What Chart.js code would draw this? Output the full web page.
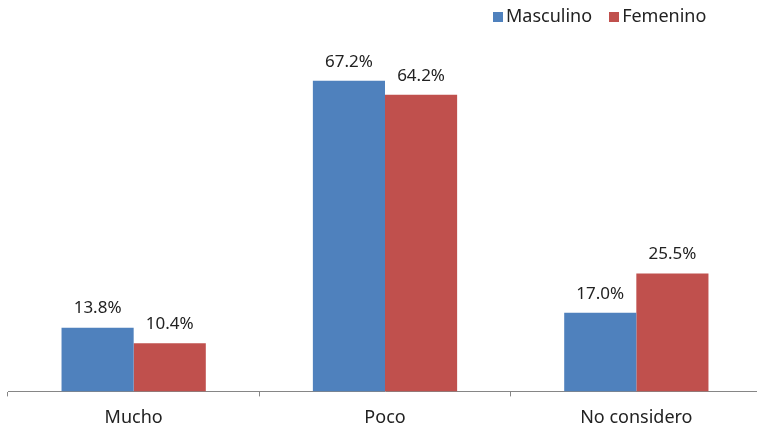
<!DOCTYPE html>
<html>
<head>
<meta charset="utf-8">
<script src="https://cdn.jsdelivr.net/npm/chart.js@4"></script>
<style>
  html, body { margin: 0; padding: 0; background: #fff; overflow: hidden; }
  #wrap { position: relative; width: 757px; height: 429px; overflow: hidden; }
  #legend { position: absolute; top: 3px; left: 493px; font: 18px "Noto Sans", sans-serif; color: #222; white-space: nowrap; }
  #legend span.box { display: inline-block; width: 10px; height: 10px; margin-right: 3px; vertical-align: 0px; }
  #legend span.item { margin-right: 17px; }
</style>
</head>
<body>
<div id="wrap">
  <canvas id="chart" width="765" height="443"></canvas>
  <div id="legend"></div>
</div>
<script>
const categories = ['Mucho', 'Poco', 'No considero'];
const masculino = [13.8, 67.2, 17.0];
const femenino = [10.4, 64.2, 25.5];
const seriesNames = ['Masculino', 'Femenino'];
const seriesColors = ['#4F81BD', '#C0504D'];

// legend in html
let legendHtml = '';
seriesNames.forEach(function(name, i) {
    legendHtml += `<span class="item"><span class="box" style="background:${seriesColors[i]}"></span>${name}</span>`;
});
document.getElementById('legend').innerHTML = legendHtml;

const valueLabels = {
    id: 'valueLabels',
    afterDatasetsDraw: function(chart) {
        const ctx = chart.ctx;
        ctx.save();
        ctx.font = '17px "Noto Sans", sans-serif';
        ctx.fillStyle = '#222';
        ctx.textAlign = 'center';
        ctx.textBaseline = 'middle';
        chart.data.datasets.forEach(function(ds, i) {
            chart.getDatasetMeta(i).data.forEach(function(bar, j) {
                ctx.fillText(ds.data[j].toFixed(1) + '%', bar.x, bar.y - 19);
            });
        });
        ctx.restore();
    }
};

new Chart(document.getElementById('chart'), {
    type: 'bar',
    data: {
        labels: categories,
        datasets: [
            { label: seriesNames[0], data: masculino, backgroundColor: seriesColors[0] },
            { label: seriesNames[1], data: femenino, backgroundColor: seriesColors[1] }
        ]
    },
    options: {
        responsive: false,
        animation: false,
        layout: { padding: { left: 8, right: 3, top: 0, bottom: 3 } },
        datasets: { bar: { categoryPercentage: 0.574, barPercentage: 1.0 } },
        plugins: {
            legend: { display: false },
            tooltip: { enabled: false }
        },
        scales: {
            x: {
                grid: { drawOnChartArea: false, drawTicks: true, tickLength: 5, color: '#868686' },
                border: { color: '#868686' },
                ticks: { color: '#222', padding: 11, font: { family: '"Noto Sans", sans-serif', size: 18 } }
            },
            y: {
                display: false,
                min: 0,
                max: 84.7
            }
        }
    },
    plugins: [valueLabels]
});
</script>
</body>
</html>
